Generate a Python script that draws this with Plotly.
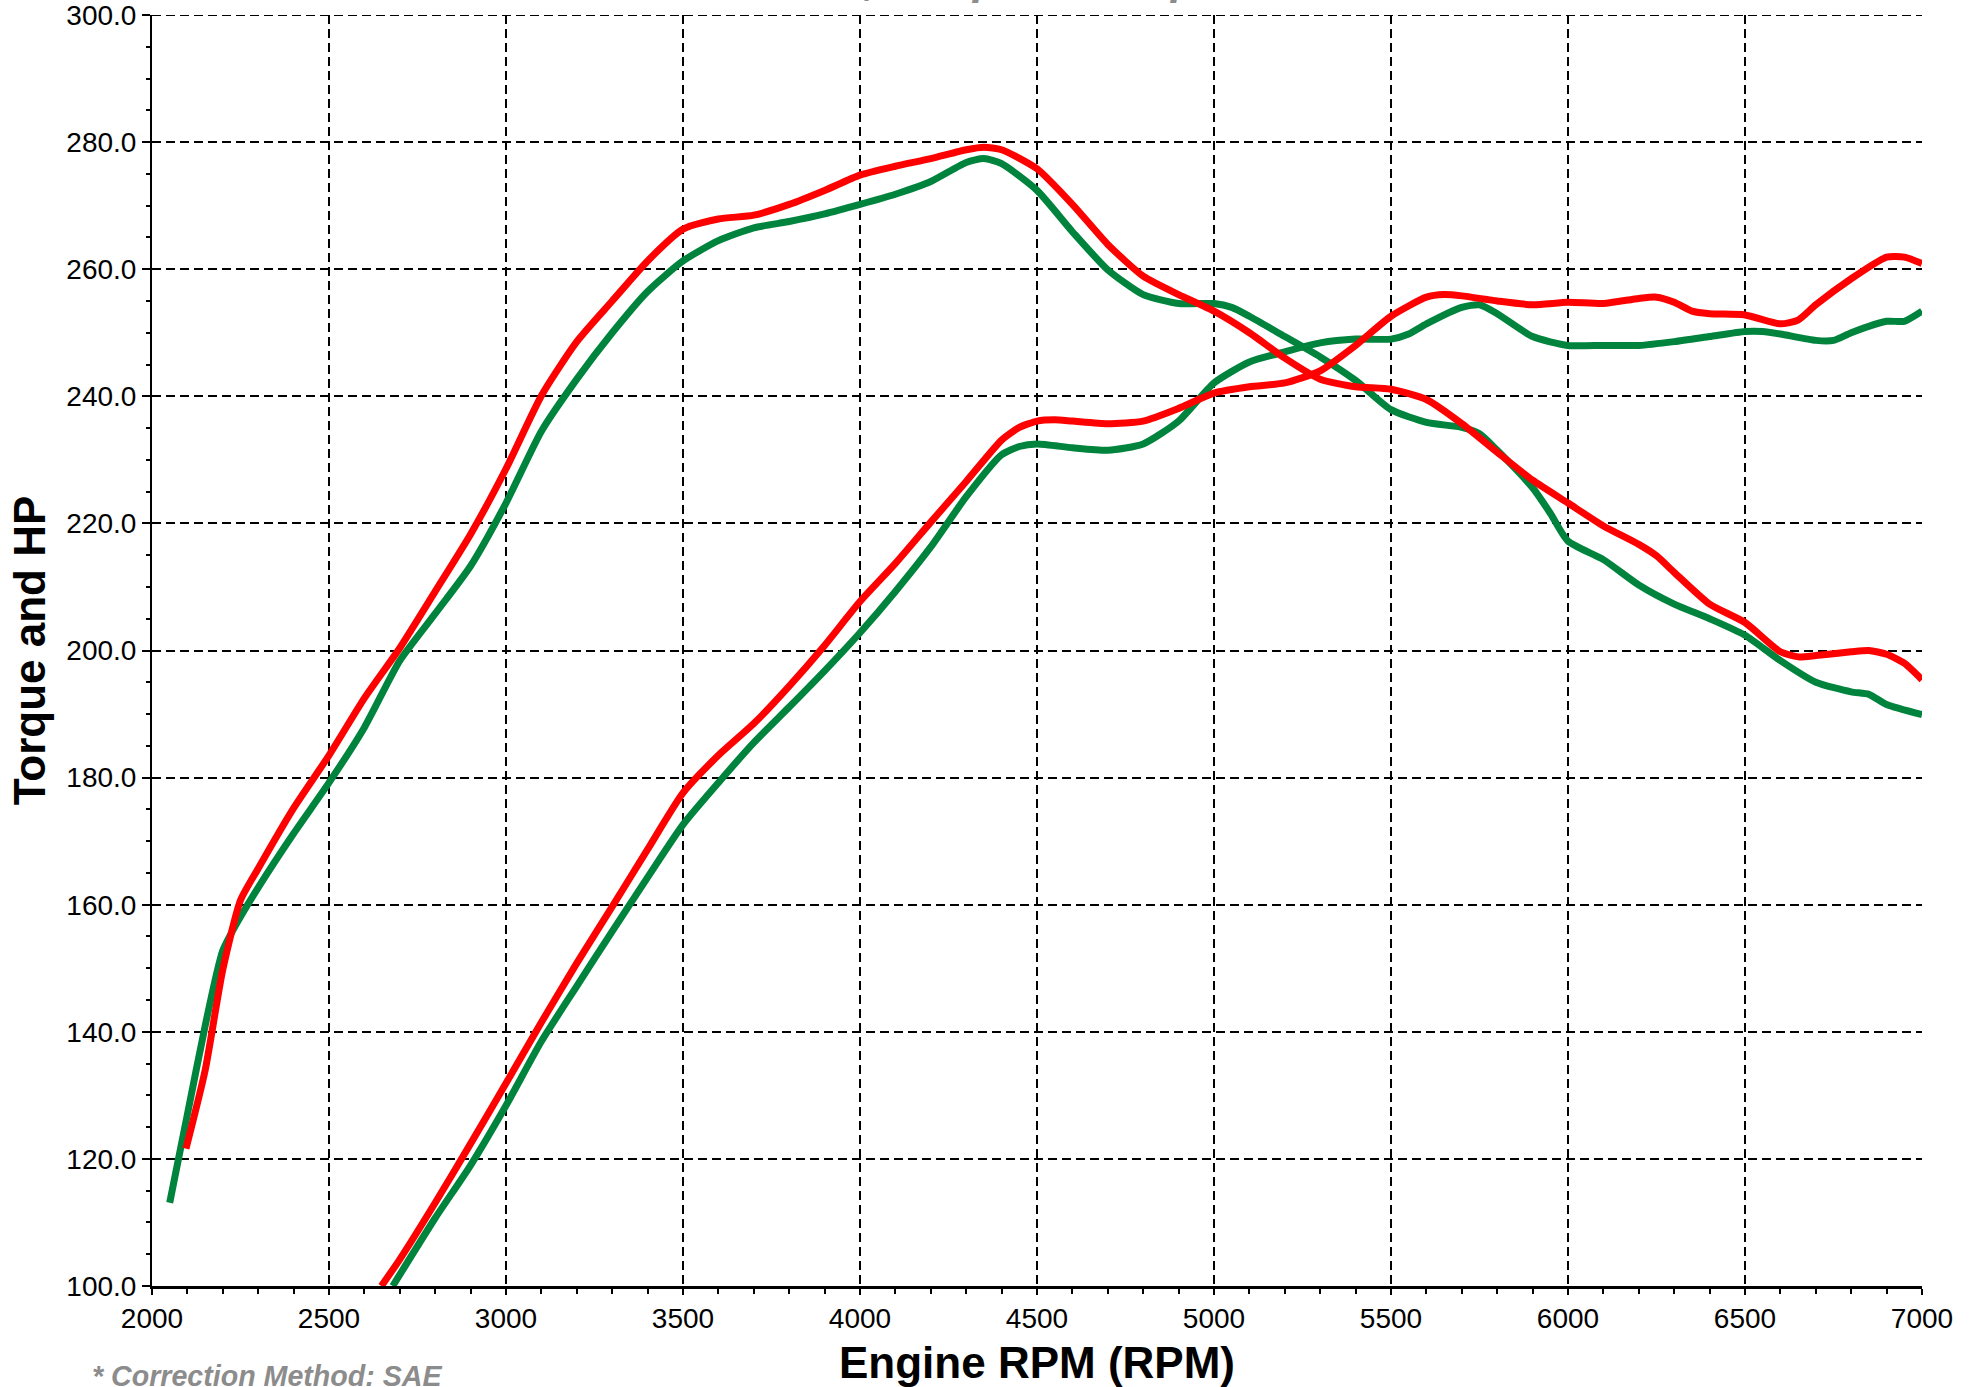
import plotly.graph_objects as go

# ---- data ----
rpm_tq_green = [2050, 2100, 2150, 2200, 2250, 2300, 2400, 2500, 2600, 2700, 2800, 2900, 3000,
                3100, 3200, 3300, 3400, 3500, 3600, 3700, 3800, 3900, 4000, 4100, 4200, 4300,
                4350, 4400, 4500, 4600, 4700, 4800, 4900, 5000, 5050, 5100, 5200, 5300, 5400,
                5500, 5600, 5700, 5750, 5800, 5900, 5950, 6000, 6100, 6200, 6300, 6400, 6500,
                6600, 6700, 6800, 6850, 6900, 7000]
tq_green = [113.1, 127.0, 140.9, 152.8, 158.1, 162.7, 171.2, 179.2, 187.9, 198.4, 205.8, 213.3, 223.2,
            234.5, 242.7, 250.0, 256.5, 261.3, 264.5, 266.5, 267.5, 268.7, 270.2, 271.8, 273.8, 276.8,
            277.4, 276.6, 272.4, 265.9, 259.9, 256.0, 254.6, 254.6, 254.0, 252.6, 249.4, 246.2, 242.5,
            237.9, 235.9, 235.1, 234.1, 231.5, 225.6, 221.6, 217.2, 214.3, 210.3, 207.3, 205.0, 202.4,
            198.4, 195.0, 193.5, 193.1, 191.5, 189.9]

rpm_hp_green = [2680, 2700, 2800, 2900, 3000, 3100, 3200, 3300, 3400, 3500, 3600, 3700, 3800, 3900,
                4000, 4100, 4200, 4300, 4400, 4450, 4500, 4600, 4700, 4800, 4900, 5000, 5100, 5200,
                5300, 5400, 5500, 5550, 5600, 5700, 5750, 5800, 5900, 6000, 6100, 6200, 6300, 6400,
                6500, 6550, 6600, 6700, 6750, 6800, 6900, 6950, 7000]
hp_green = [100.0, 101.8, 110.7, 119.0, 128.4, 138.5, 147.2, 155.8, 164.3, 172.6, 179.2, 185.5, 191.1, 196.8,
            202.8, 209.3, 216.3, 224.2, 230.8, 232.1, 232.5, 231.9, 231.5, 232.5, 236.1, 242.1, 245.4, 247.0,
            248.4, 249.0, 249.0, 249.8, 251.4, 254.0, 254.4, 253.0, 249.4, 248.0, 248.0, 248.0, 248.6, 249.4,
            250.2, 250.2, 249.8, 248.8, 248.8, 250.0, 251.8, 251.8, 253.4]

rpm_tq_red = [2096, 2150, 2200, 2250, 2300, 2400, 2500, 2600, 2700, 2800, 2900, 3000, 3100, 3200,
              3300, 3400, 3500, 3600, 3700, 3800, 3900, 4000, 4100, 4200, 4300, 4350, 4400, 4500,
              4600, 4700, 4800, 4900, 5000, 5100, 5200, 5300, 5400, 5500, 5600, 5700, 5800, 5900,
              6000, 6100, 6200, 6250, 6300, 6400, 6500, 6600, 6650, 6700, 6800, 6850, 6900, 6950, 7000]
tq_red = [121.6, 133.9, 149.8, 160.7, 165.7, 175.2, 183.5, 192.5, 200.4, 209.3, 218.3, 228.6, 240.1, 248.6,
          255.0, 261.3, 266.3, 267.9, 268.5, 270.2, 272.4, 274.8, 276.2, 277.4, 278.8, 279.2, 278.8, 275.8,
          270.2, 263.9, 258.9, 256.0, 253.4, 250.0, 246.0, 242.7, 241.5, 241.1, 239.5, 235.7, 231.2, 226.8,
          223.2, 219.6, 216.7, 214.9, 212.3, 207.3, 204.4, 199.8, 199.0, 199.2, 199.8, 200.0, 199.4, 198.0, 195.4]

rpm_hp_red = [2648, 2700, 2800, 2900, 3000, 3100, 3200, 3300, 3400, 3500, 3600, 3700, 3800, 3900,
              4000, 4100, 4200, 4300, 4400, 4450, 4500, 4550, 4600, 4700, 4800, 4900, 5000, 5100,
              5200, 5300, 5400, 5500, 5600, 5650, 5700, 5800, 5900, 6000, 6100, 6200, 6250, 6300,
              6350, 6400, 6500, 6600, 6650, 6700, 6800, 6900, 6950, 7000]
hp_red = [100.0, 104.2, 113.1, 122.4, 131.9, 141.5, 150.8, 159.7, 168.7, 177.6, 183.5, 188.5, 194.4, 200.8,
          207.7, 213.7, 220.2, 226.6, 233.1, 235.1, 236.1, 236.3, 236.1, 235.7, 236.1, 238.1, 240.5, 241.5,
          242.1, 244.0, 248.0, 252.6, 255.6, 256.0, 255.8, 255.0, 254.4, 254.8, 254.6, 255.4, 255.6, 254.8,
          253.4, 253.0, 252.8, 251.4, 252.0, 254.4, 258.5, 261.9, 261.9, 260.9]

x_ticks = [2000, 2500, 3000, 3500, 4000, 4500, 5000, 5500, 6000, 6500, 7000]
y_ticks = [100, 120, 140, 160, 180, 200, 220, 240, 260, 280, 300]

GREEN = "#00843D"
RED = "#FF0000"
FONT = "Liberation Sans, Arial, Helvetica, sans-serif"
GRID_DASH = "9px,5px"

fig = go.Figure()
for xs, ys, col in [(rpm_tq_green, tq_green, GREEN), (rpm_hp_green, hp_green, GREEN),
                    (rpm_tq_red, tq_red, RED), (rpm_hp_red, hp_red, RED)]:
    fig.add_trace(go.Scatter(x=xs, y=ys, mode="lines",
                             line=dict(color=col, width=7, shape="spline", smoothing=0.6),
                             showlegend=False, hoverinfo="skip"))

fig.update_layout(
    width=1976, height=1387,
    margin=dict(l=152, r=54, t=15, b=101, autoexpand=False),
    paper_bgcolor="white", plot_bgcolor="white",
    font=dict(family=FONT, color="black", size=28),
    showlegend=False,
)

fig.update_xaxes(
    range=[2000, 7000], tickvals=x_ticks, ticktext=[str(v) for v in x_ticks],
    automargin=False, ticklabeloverflow="allow",
    showline=True, linecolor="black", linewidth=2.5,
    ticks="outside", ticklen=6, tickwidth=2, tickcolor="black",
    minor=dict(dtick=100, ticks="outside", ticklen=5, tickwidth=1.5, tickcolor="black", showgrid=False),
    showgrid=True, gridcolor="black", gridwidth=1.6, griddash=GRID_DASH,
    zeroline=False, tickfont=dict(size=28),
    title=dict(text="<b>Engine RPM (RPM)</b>", font=dict(size=44), standoff=14),
)
fig.update_yaxes(
    range=[100, 300], tickvals=y_ticks, ticktext=[f"{v:.1f}" for v in y_ticks],
    automargin=False, ticklabeloverflow="allow",
    showline=True, linecolor="black", linewidth=2,
    ticks="outside", ticklen=8, tickwidth=2, tickcolor="black",
    minor=dict(dtick=5, ticks="outside", ticklen=4, tickwidth=1.5, tickcolor="black", showgrid=False),
    showgrid=True, gridcolor="black", gridwidth=1.6, griddash=GRID_DASH,
    zeroline=False, tickfont=dict(size=28),
    title=dict(text="<b>Torque and HP</b>", font=dict(size=44), standoff=7),
)

# top gridline at the upper range limit (plotly skips the edge gridline)
fig.add_shape(type="line", xref="paper", yref="y", x0=0, x1=1, y0=y_ticks[-1], y1=y_ticks[-1],
              line=dict(color="black", width=2, dash=GRID_DASH), layer="below")

# footnote (cut by the bottom edge, as in the reference)
fig.add_annotation(text="<b><i>* Correction Method: SAE</i></b>", xref="paper", yref="paper",
                   x=(90 - 152) / 1770, y=-0.057, xanchor="left", yanchor="top", showarrow=False,
                   font=dict(size=28.6, color="#8C8C8C", family=FONT))
# title (mostly above the visible page, only descenders show)
fig.add_annotation(text="<b><i>Power, Torque and Hp</i></b>", xref="paper", yref="paper",
                   x=(1200 - 152) / 1770, y=1.029, xanchor="right", yanchor="middle", showarrow=False,
                   font=dict(size=44, color="#8C8C8C", family=FONT))

fig.write_html("out.html", config={"displayModeBar": False},
               post_script="document.body.style.margin='0px';")
